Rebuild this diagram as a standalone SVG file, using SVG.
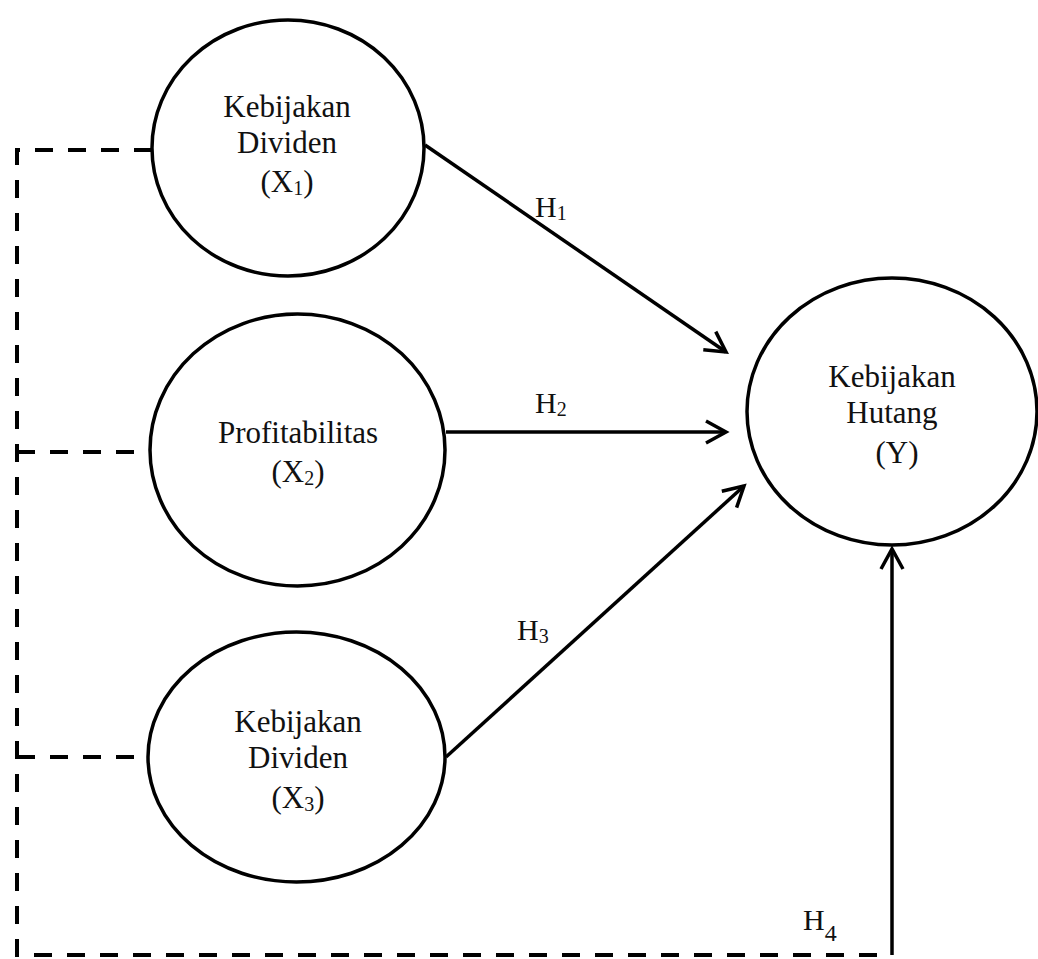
<svg xmlns="http://www.w3.org/2000/svg" width="1038" height="959" viewBox="0 0 1038 959">
<style>
.node{fill:#fff;stroke:#000;stroke-width:3.5}
.lbl{font-family:"Liberation Serif","Times New Roman",serif;font-size:31px;fill:#111;text-anchor:middle}
.h{font-family:"Liberation Serif","Times New Roman",serif;font-size:30px;fill:#111}
.sub{font-size:20px}
.solid{fill:none;stroke:#000;stroke-width:3.5}
.dash{fill:none;stroke:#000;stroke-width:4;stroke-dasharray:18 15}
</style>
<defs>
<marker id="arr" markerUnits="userSpaceOnUse" markerWidth="30" markerHeight="30" viewBox="-25 -15 30 30" refX="0" refY="0" orient="auto">
<path d="M-20,-11 L0,0 L-20,11" fill="none" stroke="#000" stroke-width="3.5"/>
</marker>
</defs>
<rect width="1038" height="959" fill="#fff"/>
<g id="connectors">
<path class="dash" d="M152,150 H17 V955 H892"/>
<path class="dash" d="M17,452 H150"/>
<path class="dash" d="M17,757 H148"/>
<line class="solid" x1="425" y1="145" x2="726" y2="352" marker-end="url(#arr)"/>
<line class="solid" x1="446" y1="432" x2="726" y2="432" marker-end="url(#arr)"/>
<line class="solid" x1="446" y1="757" x2="744" y2="486" marker-end="url(#arr)"/>
<line class="solid" x1="892" y1="955" x2="892" y2="549" marker-end="url(#arr)"/>
<text class="h" x="535" y="217">H<tspan class="sub" dy="3">1</tspan></text>
<text class="h" x="535" y="413">H<tspan class="sub" dy="3">2</tspan></text>
<text class="h" x="517" y="640">H<tspan class="sub" dy="3">3</tspan></text>
<text class="h" x="803" y="930">H<tspan font-size="24" dy="11">4</tspan></text>
</g>
<g id="x1">
<ellipse class="node" cx="288" cy="148" rx="136" ry="128"/>
<text class="lbl" x="287" y="117">Kebijakan</text>
<text class="lbl" x="287" y="153">Dividen</text>
<text class="lbl" x="287" y="192">(X<tspan class="sub" dy="3">1</tspan><tspan dy="-3">)</tspan></text>
</g>
<g id="x2">
<ellipse class="node" cx="297.5" cy="450" rx="147.5" ry="136"/>
<text class="lbl" x="298" y="443">Profitabilitas</text>
<text class="lbl" x="298" y="482">(X<tspan class="sub" dy="3">2</tspan><tspan dy="-3">)</tspan></text>
</g>
<g id="x3">
<ellipse class="node" cx="296.5" cy="757" rx="148.5" ry="125"/>
<text class="lbl" x="298" y="732">Kebijakan</text>
<text class="lbl" x="298" y="768">Dividen</text>
<text class="lbl" x="298" y="808">(X<tspan class="sub" dy="3">3</tspan><tspan dy="-3">)</tspan></text>
</g>
<g id="y">
<ellipse class="node" cx="892" cy="411.5" rx="145" ry="133.5"/>
<text class="lbl" x="892" y="387">Kebijakan</text>
<text class="lbl" x="892" y="423">Hutang</text>
<text class="lbl" x="897" y="463">(Y)</text>
</g>
</svg>
